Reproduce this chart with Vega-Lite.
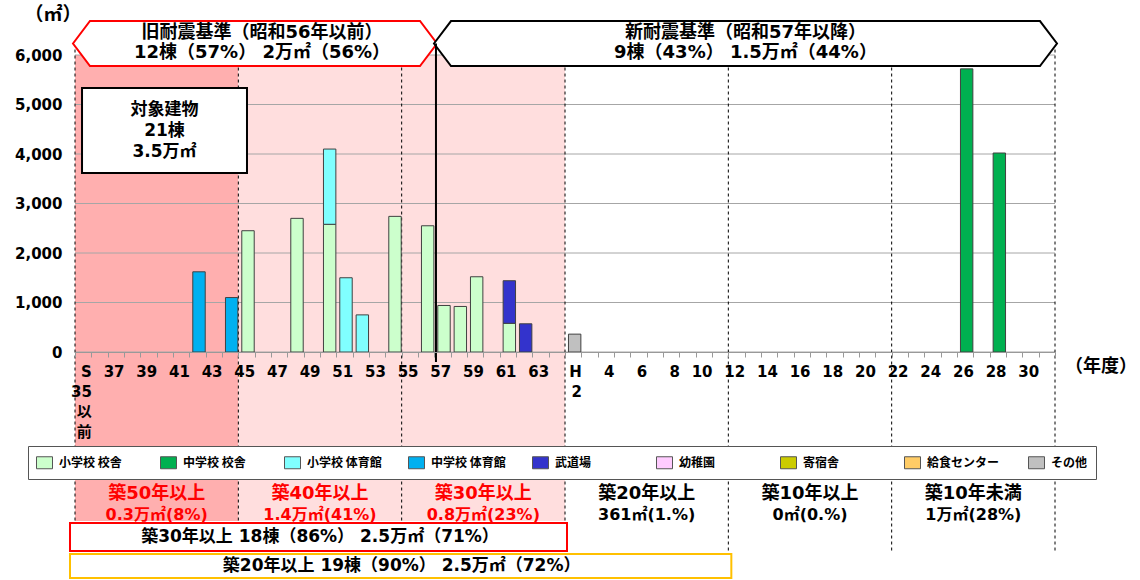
{
  "$schema": "https://vega.github.io/schema/vega-lite/v6.json",
  "width": 980,
  "height": 297,
  "autosize": "none",
  "padding": {"left": 75, "top": 55, "right": 85, "bottom": 228},
  "background": "white",
  "config": {
    "view": {"stroke": null},
    "font": "DejaVu Sans, Noto Sans CJK JP",
    "axis": {"grid": false}
  },
  "datasets": {
    "buildings": [
      {"year": "S42", "type": "中学校 体育館", "code": 4, "area": 1620},
      {"year": "S44", "type": "中学校 体育館", "code": 4, "area": 1100},
      {"year": "S45", "type": "小学校 校舎", "code": 1, "area": 2450},
      {"year": "S48", "type": "小学校 校舎", "code": 1, "area": 2700},
      {"year": "S50", "type": "小学校 校舎", "code": 1, "area": 2580},
      {"year": "S50", "type": "小学校 体育館", "code": 3, "area": 1520},
      {"year": "S51", "type": "小学校 体育館", "code": 3, "area": 1500},
      {"year": "S52", "type": "小学校 体育館", "code": 3, "area": 750},
      {"year": "S54", "type": "小学校 校舎", "code": 1, "area": 2740},
      {"year": "S56", "type": "小学校 校舎", "code": 1, "area": 2550},
      {"year": "S57", "type": "小学校 校舎", "code": 1, "area": 940},
      {"year": "S58", "type": "小学校 校舎", "code": 1, "area": 920},
      {"year": "S59", "type": "小学校 校舎", "code": 1, "area": 1520},
      {"year": "S61", "type": "小学校 校舎", "code": 1, "area": 580},
      {"year": "S61", "type": "武道場", "code": 5, "area": 860},
      {"year": "S62", "type": "武道場", "code": 5, "area": 570},
      {"year": "H2", "type": "その他", "code": 9, "area": 361},
      {"year": "H26", "type": "中学校 校舎", "code": 2, "area": 5720},
      {"year": "H28", "type": "中学校 校舎", "code": 2, "area": 4020}
    ],
    "periods": [
      {"age": "築50年以上", "area": "0.3万㎡(8%)", "from": "S35", "to": "S44", "mid": "S40"},
      {"age": "築40年以上", "area": "1.4万㎡(41%)", "from": "S45", "to": "S54", "mid": "S50"},
      {"age": "築30年以上", "area": "0.8万㎡(23%)", "from": "S55", "to": "H1", "mid": "S60"},
      {"age": "築20年以上", "area": "361㎡(1.%)", "from": "H2", "to": "H11", "mid": "H7"},
      {"age": "築10年以上", "area": "0㎡(0.%)", "from": "H12", "to": "H21", "mid": "H17"},
      {"age": "築10年未満", "area": "1万㎡(28%)", "from": "H22", "to": "H31", "mid": "H27"}
    ],
    "eras": [
      {"standard": "旧耐震基準（昭和56年以前）", "summary": "12棟（57%） 2万㎡（56%）"},
      {"standard": "新耐震基準（昭和57年以降）", "summary": "9棟（43%） 1.5万㎡（44%）"}
    ],
    "grid": [{"g": 0}, {"g": 1000}, {"g": 2000}, {"g": 3000}, {"g": 4000}, {"g": 5000}, {"g": 6000}]
  },
  "layer": [
    {
      "data": {"name": "periods"},
      "transform": [{"filter": "datum.age == '築50年以上'"}],
      "mark": {"type": "rect", "fill": "#FFAFAF"},
      "encoding": {
        "x": {"field": "from", "type": "nominal", "bandPosition": 0},
        "x2": {"field": "to", "bandPosition": 1},
        "y": {"datum": 6000, "type": "quantitative"},
        "y2": {"datum": -3413}
      }
    },
    {
      "data": {"name": "periods"},
      "transform": [{"filter": "datum.age == '築40年以上' || datum.age == '築30年以上'"}],
      "mark": {"type": "rect", "fill": "#FFDEDE"},
      "encoding": {
        "x": {"field": "from", "type": "nominal", "bandPosition": 0},
        "x2": {"field": "to", "bandPosition": 1},
        "y": {"datum": 6000, "type": "quantitative"},
        "y2": {"datum": -3413}
      }
    },
    {
      "data": {"name": "grid"},
      "mark": {"type": "rule", "color": "#A6A6A6", "strokeWidth": 1},
      "encoding": {
        "y": {"field": "g", "type": "quantitative"}
      }
    },
    {
      "data": {"name": "periods"},
      "mark": {"type": "rule", "color": "black", "strokeDash": [3, 3], "strokeWidth": 1},
      "encoding": {
        "x": {"field": "from", "type": "nominal", "bandPosition": 0},
        "y": {"datum": 6232, "type": "quantitative"},
        "y2": {"datum": -4039}
      }
    },
    {
      "data": {"name": "periods"},
      "transform": [{"filter": "datum.age == '築10年未満'"}],
      "mark": {"type": "rule", "color": "black", "strokeDash": [3, 3], "strokeWidth": 1},
      "encoding": {
        "x": {"field": "to", "type": "nominal", "bandPosition": 1},
        "y": {"datum": 6232, "type": "quantitative"},
        "y2": {"datum": -4039}
      }
    },
    {
      "data": {"name": "buildings"},
      "mark": {"type": "bar", "stroke": "#404040", "strokeWidth": 1, "width": {"band": 0.76}, "xOffset": 1.5},
      "encoding": {
        "x": {
          "field": "year", "type": "nominal", "title": null,
          "scale": {"type": "band", "paddingInner": 0, "paddingOuter": 0,
            "domain": ["S35","S36","S37","S38","S39","S40","S41","S42","S43","S44","S45","S46","S47","S48","S49","S50","S51","S52","S53","S54","S55","S56","S57","S58","S59","S60","S61","S62","S63","H1","H2","H3","H4","H5","H6","H7","H8","H9","H10","H11","H12","H13","H14","H15","H16","H17","H18","H19","H20","H21","H22","H23","H24","H25","H26","H27","H28","H29","H30","H31"]},
          "axis": {
            "zindex": 1, "labelAngle": 0, "labelFontSize": 15, "labelFontWeight": "bold", "labelColor": "black",
            "labelFont": "DejaVu Sans, Noto Sans CJK JP",
            "labelPadding": 7, "labelLineHeight": 20, "labelBaseline": "top", "labelOffset": 8.2,
            "domainColor": "#999999", "tickColor": "#999999", "tickSize": 5, "tickBand": "extent",
            "labelExpr": "datum.value == 'S35' ? ['S','35','以','前'] : datum.value == 'H2' ? ['H','2'] : substring(datum.value,0,1) == 'S' ? (toNumber(substring(datum.value,1)) % 2 == 1 ? substring(datum.value,1) : '') : (toNumber(substring(datum.value,1)) % 2 == 0 ? substring(datum.value,1) : '')",
            "title": null
          }
        },
        "y": {
          "field": "area", "type": "quantitative", "stack": "zero", "title": null,
          "scale": {"domain": [0, 6000], "nice": false},
          "axis": {
            "zindex": 1, "values": [0, 1000, 2000, 3000, 4000, 5000, 6000],
            "labelExpr": "format(datum.value, ',')",
            "grid": false, "domain": false, "ticks": false, "labelPadding": 13,
            "labelFontSize": 15, "labelFontWeight": "bold", "labelColor": "black", "labelFont": "DejaVu Sans",
            "title": null
          }
        },
        "color": {
          "field": "type", "type": "nominal",
          "scale": {
            "domain": ["小学校 校舎", "中学校 校舎", "小学校 体育館", "中学校 体育館", "武道場", "幼稚園", "寄宿舎", "給食センター", "その他"],
            "range": ["#CCFFCC", "#00B050", "#80FFFF", "#00B0F0", "#3333CC", "#FFCCFF", "#CCCC00", "#FFCC66", "#C0C0C0"]
          },
          "legend": {
            "title": null, "orient": "none", "legendX": -47, "legendY": 391, "direction": "horizontal",
            "columns": 9, "gridAlign": "all", "symbolType": "M-1,-0.75L1,-0.75L1,0.75L-1,0.75Z", "symbolSize": 256,
            "symbolStrokeColor": "#555555", "symbolStrokeWidth": 1, "symbolOpacity": 1,
            "labelFontSize": 12, "labelFont": "Noto Sans CJK JP", "labelFontWeight": "bold", "labelColor": "black",
            "labelOffset": 6, "columnPadding": 24, "padding": 8, "strokeColor": "#555555", "fillColor": "white", "labelLimit": 300
          }
        },
        "order": {"field": "code", "type": "quantitative", "sort": "ascending"}
      }
    },
    {
      "data": {"values": [{"unit": "（㎡）", "anchor": "S35"}]},
      "mark": {"type": "text", "fontSize": 19, "fontWeight": "bold", "color": "black", "align": "center", "baseline": "middle", "dx": -22, "font": "Noto Sans CJK JP"},
      "encoding": {
        "x": {"field": "anchor", "type": "nominal", "bandPosition": 0},
        "y": {"datum": 6808, "type": "quantitative"},
        "text": {"field": "unit"}
      }
    },
    {
      "data": {"values": [{"unit": "（年度）", "anchor": "H31"}]},
      "mark": {"type": "text", "fontSize": 18, "fontWeight": "bold", "color": "black", "align": "center", "baseline": "middle", "dx": 46, "font": "Noto Sans CJK JP"},
      "encoding": {
        "x": {"field": "anchor", "type": "nominal", "bandPosition": 1},
        "y": {"datum": -302, "type": "quantitative"},
        "text": {"field": "unit"}
      }
    },
    {
      "data": {"name": "eras"},
      "transform": [{"filter": "indexof(datum.standard, '旧') == 0"}],
      "mark": {"type": "point", "shape": "M-1,0L-0.9066,-0.1236L0.9066,-0.1236L1,0L0.9066,0.1236L-0.9066,0.1236Z",
        "size": 132496, "filled": true, "fill": "white", "stroke": "#FF0000", "strokeWidth": 2, "opacity": 1},
      "encoding": {
        "x": {"datum": "S46", "type": "nominal", "bandPosition": 0.02},
        "y": {"datum": 6232, "type": "quantitative"}
      }
    },
    {
      "data": {"name": "eras"},
      "transform": [{"filter": "indexof(datum.standard, '新') == 0"}],
      "mark": {"type": "point", "shape": "M-1,0L-0.9454,-0.0722L0.9454,-0.0722L1,0L0.9454,0.0722L-0.9454,0.0722Z",
        "size": 388129, "filled": true, "fill": "white", "stroke": "black", "strokeWidth": 2, "opacity": 1},
      "encoding": {
        "x": {"datum": "H13", "type": "nominal", "bandPosition": 0.05},
        "y": {"datum": 6232, "type": "quantitative"}
      }
    },
    {
      "data": {"name": "eras"},
      "transform": [{"filter": "indexof(datum.standard, '旧') == 0"}],
      "layer": [
        {
          "mark": {"type": "text", "fontSize": 18, "fontWeight": "bold", "color": "black", "align": "center", "baseline": "middle"},
          "encoding": {
            "x": {"datum": "S46", "type": "nominal", "bandPosition": 0.45},
            "y": {"datum": 6444, "type": "quantitative"},
            "text": {"field": "standard"}
          }
        },
        {
          "mark": {"type": "text", "fontSize": 18, "fontWeight": "bold", "color": "black", "align": "center", "baseline": "middle"},
          "encoding": {
            "x": {"datum": "S46", "type": "nominal", "bandPosition": 0.45},
            "y": {"datum": 6040, "type": "quantitative"},
            "text": {"field": "summary"}
          }
        }
      ]
    },
    {
      "data": {"name": "eras"},
      "transform": [{"filter": "indexof(datum.standard, '新') == 0"}],
      "layer": [
        {
          "mark": {"type": "text", "fontSize": 18, "fontWeight": "bold", "color": "black", "align": "center", "baseline": "middle"},
          "encoding": {
            "x": {"datum": "H13", "type": "nominal", "bandPosition": 0.05},
            "y": {"datum": 6444, "type": "quantitative"},
            "text": {"field": "standard"}
          }
        },
        {
          "mark": {"type": "text", "fontSize": 18, "fontWeight": "bold", "color": "black", "align": "center", "baseline": "middle"},
          "encoding": {
            "x": {"datum": "H13", "type": "nominal", "bandPosition": 0.05},
            "y": {"datum": 6040, "type": "quantitative"},
            "text": {"field": "summary"}
          }
        }
      ]
    },
    {
      "data": {"values": [{"boundary": "S57"}]},
      "mark": {"type": "rule", "color": "black", "strokeWidth": 2},
      "encoding": {
        "x": {"field": "boundary", "type": "nominal", "bandPosition": 0.1},
        "y": {"datum": 6232, "type": "quantitative"},
        "y2": {"datum": -201}
      }
    },
    {
      "data": {"values": [{"label": "対象建物"}]},
      "layer": [
        {
          "mark": {"type": "rect", "fill": "white", "stroke": "black", "strokeWidth": 2},
          "encoding": {
            "x": {"datum": "S35", "type": "nominal", "bandPosition": 0.43},
            "x2": {"datum": "S45", "bandPosition": 0.53},
            "y": {"datum": 5333, "type": "quantitative"},
            "y2": {"datum": 3616}
          }
        },
        {
          "mark": {"type": "text", "fontSize": 17, "fontWeight": "bold", "color": "black", "align": "center", "baseline": "middle", "lineHeight": 21},
          "encoding": {
            "x": {"datum": "S40", "type": "nominal", "bandPosition": 0.48},
            "y": {"datum": 4889, "type": "quantitative"},
            "text": {"value": ["対象建物", "21棟", "3.5万㎡"]}
          }
        }
      ]
    },
    {
      "data": {"name": "periods"},
      "layer": [
        {
          "mark": {"type": "text", "fontSize": 18, "fontWeight": "bold", "align": "center", "baseline": "middle"},
          "encoding": {
            "x": {"field": "mid", "type": "nominal", "bandPosition": 0},
            "y": {"datum": -2868, "type": "quantitative"},
            "text": {"field": "age"},
            "color": {"condition": {"test": "datum.age == '築50年以上' || datum.age == '築40年以上' || datum.age == '築30年以上'", "value": "#FF0000"}, "value": "black"}
          }
        },
        {
          "mark": {"type": "text", "fontSize": 16, "fontWeight": "bold", "align": "center", "baseline": "middle"},
          "encoding": {
            "x": {"field": "mid", "type": "nominal", "bandPosition": 0},
            "y": {"datum": -3292, "type": "quantitative"},
            "text": {"field": "area"},
            "color": {"condition": {"test": "datum.age == '築50年以上' || datum.age == '築40年以上' || datum.age == '築30年以上'", "value": "#FF0000"}, "value": "black"}
          }
        }
      ]
    },
    {
      "data": {"values": [{"label": "築30年以上 18棟（86%） 2.5万㎡（71%）"}]},
      "layer": [
        {
          "mark": {"type": "rect", "fill": "white", "stroke": "#FF0000", "strokeWidth": 2, "xOffset": -5, "x2Offset": 2},
          "encoding": {
            "x": {"datum": "S35", "type": "nominal", "bandPosition": 0},
            "x2": {"datum": "H1", "bandPosition": 1},
            "y": {"datum": -3454, "type": "quantitative"},
            "y2": {"datum": -4019}
          }
        },
        {
          "mark": {"type": "text", "fontSize": 17, "fontWeight": "bold", "color": "black", "align": "center", "baseline": "middle"},
          "encoding": {
            "x": {"datum": "S50", "type": "nominal", "bandPosition": 0},
            "y": {"datum": -3736, "type": "quantitative"},
            "text": {"field": "label"}
          }
        }
      ]
    },
    {
      "data": {"values": [{"label": "築20年以上 19棟（90%） 2.5万㎡（72%）"}]},
      "layer": [
        {
          "mark": {"type": "rect", "fill": "white", "stroke": "#FFC000", "strokeWidth": 2, "xOffset": -5, "x2Offset": 3},
          "encoding": {
            "x": {"datum": "S35", "type": "nominal", "bandPosition": 0},
            "x2": {"datum": "H11", "bandPosition": 1},
            "y": {"datum": -4080, "type": "quantitative"},
            "y2": {"datum": -4565}
          }
        },
        {
          "mark": {"type": "text", "fontSize": 17, "fontWeight": "bold", "color": "black", "align": "center", "baseline": "middle"},
          "encoding": {
            "x": {"datum": "S55", "type": "nominal", "bandPosition": 0},
            "y": {"datum": -4322, "type": "quantitative"},
            "text": {"field": "label"}
          }
        }
      ]
    }
  ]
}
